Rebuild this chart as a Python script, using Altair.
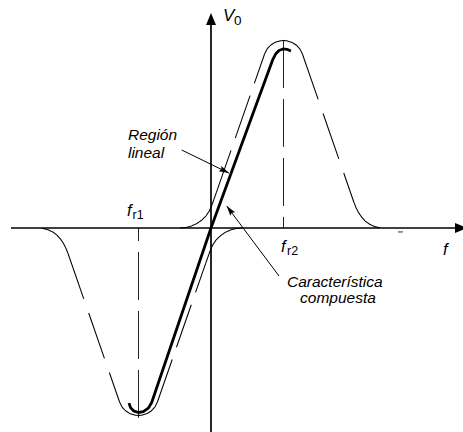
import math
import altair as alt
import pandas as pd

# Units: frequency as deviation normalised to fr2, output voltage normalised to the peak
# of a single tuned circuit.
W, H = 463, 432
F_DOM = [-2.9103, 3.4759]
V_DOM = [-1.088, 1.216]
PX_F = W / (F_DOM[1] - F_DOM[0])
PX_V = H / (V_DOM[1] - V_DOM[0])

# Resonance curve of the circuit tuned to fr2 (the one tuned to fr1 is its mirror image)
tail_in_f = [-0.428, -0.347, -0.268, -0.194, -0.128, -0.070, -0.024, 0.013, 0.072]
tail_in_v = [0.000, 0.003, 0.011, 0.024, 0.042, 0.064, 0.090, 0.123, 0.187]
flank_in_f = [0.072, 0.739]
flank_in_v = [0.187, 0.928]
crest_f = [0.739, 0.774, 0.822, 0.883, 0.952, 1.000, 1.048, 1.117, 1.178, 1.226, 1.261]
crest_v = [0.928, 0.955, 0.975, 0.990, 0.998, 1.000, 0.998, 0.990, 0.975, 0.955, 0.928]
flank_out_f = [1.261, 1.972]
flank_out_v = [0.928, 0.136]
tail_out_f = [1.972, 2.000, 2.034, 2.076, 2.124, 2.179, 2.248, 2.331]
tail_out_v = [0.136, 0.109, 0.083, 0.059, 0.038, 0.022, 0.009, 0.001]

# Composite (difference) characteristic
comp_f = [-1.131, -1.110, -1.069, -1.003, -0.934, -0.865, -0.818, 0.0,
          0.855, 0.897, 0.938, 0.993, 1.048, 1.103]
comp_v = [-0.934, -0.958, -0.975, -0.984, -0.979, -0.961, -0.931, 0.0,
          0.901, 0.931, 0.947, 0.955, 0.953, 0.944]

# Resonant frequencies and the height of their guide lines
fr_names = ["fr2", "fr1"]
fr_pos = [1.0, -1.0]
fr_top = [1.003, -1.013]

# Annotation arrows: tail and tip
arrow_names = ["lineal", "compuesta"]
arrow_from_f = [-0.404, 0.938]
arrow_from_v = [0.416, -0.256]
arrow_to_f = [0.248, 0.217]
arrow_to_v = [0.293, 0.117]

# Labels
main_txt = ["f", "f", "V", "f"]
main_f = [-1.159, 0.966, 0.166, 3.200]
main_v = [0.064, -0.128, 1.104, -0.144]
main_size = [16.5, 16.5, 17, 16.5]
sub_txt = ["r1", "r2", "0"]
sub_f = [-1.083, 1.048, 0.317]
sub_v = [0.048, -0.144, 1.083]
sub_size = [12.5, 12.5, 13.5]
note_txt = ["Región", "lineal", "Característica", "compuesta"]
note_f = [-1.145, -1.145, 1.048, 1.228]
note_v = [0.469, 0.372, -0.317, -0.400]

FONT = "Liberation Sans"
xs = alt.Scale(domain=F_DOM, nice=False, zero=False)
ys = alt.Scale(domain=V_DOM, nice=False, zero=False)
X = lambda fld="f": alt.X(f"{fld}:Q", scale=xs, axis=None)
Y = lambda fld="v": alt.Y(f"{fld}:Q", scale=ys, axis=None)

# --- tuned-circuit curves, both lobes
segments = [
    ("tail_in", "solid", tail_in_f, tail_in_v),
    ("flank_in", "dash_a", flank_in_f, flank_in_v),
    ("crest", "solid", crest_f, crest_v),
    ("flank_out", "dash_b", flank_out_f, flank_out_v),
    ("tail_out", "solid", tail_out_f, tail_out_v),
]
rows = []
k = 0
for name, style, fs, vs in segments:
    for f, v in zip(fs, vs):
        k += 1
        rows.append(dict(seg="hi_" + name, style=style, f=f, v=v, k=k))
        rows.append(dict(seg="lo_" + name, style=style, f=-f, v=-v, k=-k))
curves = pd.DataFrame(rows)

curve_layer = alt.Chart(curves).mark_line(strokeWidth=1.05, color="black").encode(
    x=X(), y=Y(), detail="seg:N", order="k:Q",
    strokeDash=alt.StrokeDash(
        "style:N",
        scale=alt.Scale(domain=["solid", "dash_a", "dash_b"],
                        range=[[1, 0], [45, 13], [48, 15]]),
        legend=None,
    ),
)

# --- guide lines at the resonant frequencies
guide_rows = []
for n, p, t in zip(fr_names, fr_pos, fr_top):
    guide_rows.append(dict(seg=n, f=p, v=t, k=0))
    guide_rows.append(dict(seg=n, f=p, v=0.0, k=1))
guides = pd.DataFrame(guide_rows)
guide_layer = alt.Chart(guides).mark_line(
    strokeWidth=1, color="#222", strokeDash=[48, 11]
).encode(x=X(), y=Y(), detail="seg:N", order="k:Q")

# --- composite characteristic
comp = pd.DataFrame(dict(f=comp_f, v=comp_v, k=range(len(comp_f))))
comp_layer = alt.Chart(comp).mark_line(
    strokeWidth=2.8, color="black", strokeJoin="round", strokeCap="butt"
).encode(x=X(), y=Y(), order="k:Q")

# --- axes drawn as rules
axes = pd.DataFrame(dict(f=[-2.759, 0.0], f2=[3.45, 0.0], v=[0.0, 1.09], v2=[0.0, -1.15]))
axes_layer = alt.Chart(axes).mark_rule(strokeWidth=1.7, color="black").encode(
    x=X(), x2="f2:Q", y=Y(), y2="v2:Q"
)
tick = pd.DataFrame(dict(f=[2.579], f2=[2.648], v=[-0.021], v2=[-0.021]))
tick_layer = alt.Chart(tick).mark_rule(strokeWidth=1, color="#333").encode(
    x=X(), x2="f2:Q", y=Y(), y2="v2:Q"
)


def heading(f0, v0, f1, v1):
    dx = (f1 - f0) * PX_F
    dy = -(v1 - v0) * PX_V
    return math.degrees(math.atan2(dx, -dy)) % 360


axis_heads = pd.DataFrame(dict(f=[0.0, 3.531], v=[1.147, 0.0], ang=[0.0, 90.0]))
axis_head_layer = alt.Chart(axis_heads).mark_point(
    shape="M0,0L-5,12L5,12Z", size=4, filled=True, color="black", opacity=1, strokeWidth=0
).encode(x=X(), y=Y(), angle=alt.Angle("ang:Q", scale=None))

# --- annotation arrows
arrows = pd.DataFrame(dict(
    name=arrow_names, f=arrow_from_f, v=arrow_from_v, f2=arrow_to_f, v2=arrow_to_v,
))
arrows["ang"] = [heading(a, b, c, d) for a, b, c, d in
                 zip(arrow_from_f, arrow_from_v, arrow_to_f, arrow_to_v)]
shaft_layer = alt.Chart(arrows).mark_rule(strokeWidth=1, color="black").encode(
    x=X(), x2="f2:Q", y=Y(), y2="v2:Q"
)
head_layer = alt.Chart(arrows).mark_point(
    shape="M0,0L-3,10L0,8.5L3,10Z", size=4, filled=True, color="black", opacity=1, strokeWidth=0
).encode(x=X("f2"), y=Y("v2"), angle=alt.Angle("ang:Q", scale=None))

# --- text
mains = pd.DataFrame(dict(t=main_txt, f=main_f, v=main_v, s=main_size))
subs = pd.DataFrame(dict(t=sub_txt, f=sub_f, v=sub_v, s=sub_size))
notes = pd.DataFrame(dict(t=note_txt, f=note_f, v=note_v))

main_layer = alt.Chart(mains).mark_text(
    font=FONT, fontStyle="italic", align="left", baseline="alphabetic", color="black"
).encode(x=X(), y=Y(), text="t:N", size=alt.Size("s:Q", scale=None))
sub_layer = alt.Chart(subs).mark_text(
    font=FONT, align="left", baseline="alphabetic", color="black"
).encode(x=X(), y=Y(), text="t:N", size=alt.Size("s:Q", scale=None))
note_layer = alt.Chart(notes).mark_text(
    font=FONT, fontStyle="italic", fontSize=15.5, align="left", baseline="alphabetic",
    color="black"
).encode(x=X(), y=Y(), text="t:N")

chart = alt.layer(
    guide_layer, curve_layer, axes_layer, tick_layer, comp_layer,
    shaft_layer, head_layer, axis_head_layer,
    main_layer, sub_layer, note_layer,
).properties(
    width=W, height=H, autosize="none", padding=0, background="white"
).configure_view(stroke=None)

chart.save("out.html", embed_options={"renderer": "svg", "actions": False})
